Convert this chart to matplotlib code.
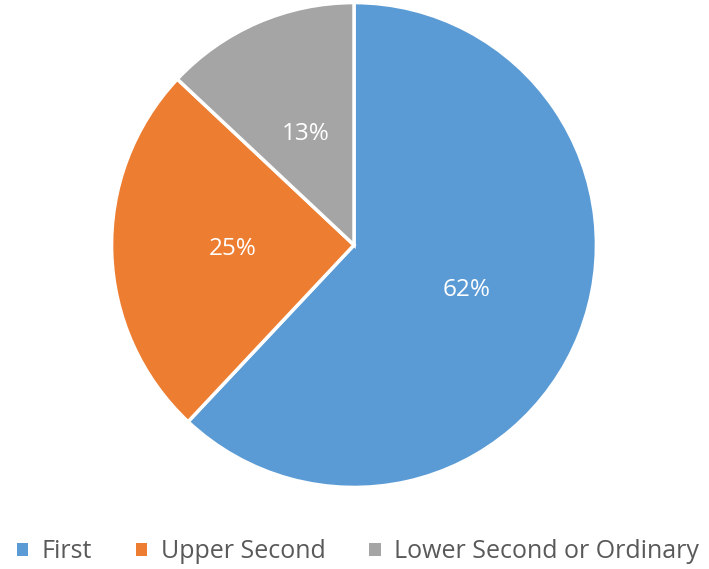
import matplotlib.pyplot as plt
from matplotlib.patches import Patch

categories = ['First', 'Upper Second', 'Lower Second or Ordinary']
shares = [62, 25, 13]
colours = ['#5B9BD5', '#ED7D31', '#A5A5A5']

plt.rcParams['font.family'] = ['Open Sans', 'DejaVu Sans']

fig = plt.figure(figsize=(7.09, 5.69), dpi=100)
ax = fig.add_axes([0.1608, 0.1476, 0.677, 0.8436])

wedges, texts, autotexts = ax.pie(
    shares, colors=colours, startangle=90, counterclock=False,
    autopct='%1.0f%%', pctdistance=0.5,
    wedgeprops=dict(edgecolor='white', linewidth=2.5),
    textprops=dict(color='white', fontsize=17.5))
ax.set_xlim(-0.99, 0.99)
ax.set_ylim(-0.99, 0.99)
ax.set_aspect('equal')

handles = [Patch(facecolor=c, edgecolor='none') for c in colours]
fig.legend(handles, categories, loc='center', bbox_to_anchor=(0.505, 0.03),
           ncol=3, frameon=False, fontsize=18, labelcolor='#595959',
           handlelength=0.45, handleheight=0.45, handletextpad=0.55,
           columnspacing=1.75, borderpad=0)

fig.savefig('out.png', dpi=100)
